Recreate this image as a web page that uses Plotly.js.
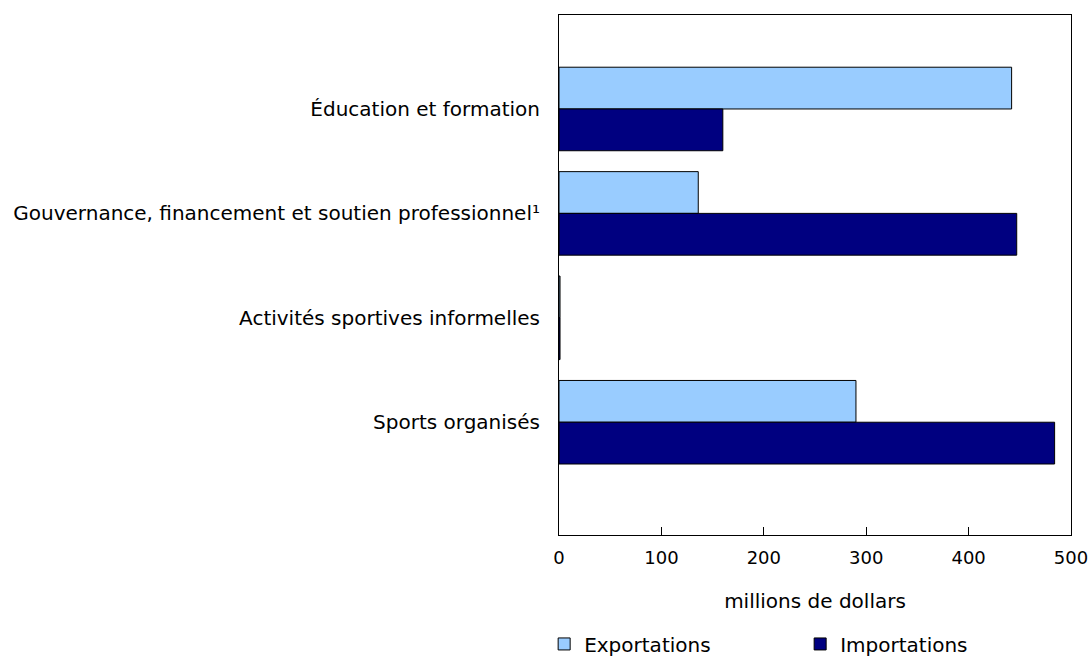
<!DOCTYPE html>
<html>
<head>
<meta charset="utf-8">
<script src="https://cdn.plot.ly/plotly-3.0.1.min.js"></script>
<style>html,body{margin:0;padding:0;background:#fff;}#chart{width:1090px;height:656px;}</style>
</head>
<body>
<div id="chart"></div>
<script>
var categories = ["Éducation et formation", "Gouvernance, financement et soutien professionnel¹", "Activités sportives informelles", "Sports organisés"];
var exportations = [442, 136, 1, 290];
var importations = [160, 447, 1, 484];
var seriesNames = ["Exportations", "Importations"];
var xTicks = [0, 100, 200, 300, 400, 500];

var font = {family: "DejaVu Sans, Verdana, sans-serif", size: 20, color: "#000"};
var tickFont = {family: "DejaVu Sans, Verdana, sans-serif", size: 18, color: "#000"};

var traces = [
  {type: "bar", orientation: "h", name: seriesNames[0], y: categories, x: exportations,
   marker: {color: "#99CCFF", line: {color: "#000", width: 1}}, hoverinfo: "x+y"},
  {type: "bar", orientation: "h", name: seriesNames[1], y: categories, x: importations,
   marker: {color: "#000080", line: {color: "#000", width: 1}}, hoverinfo: "x+y"}
];

var layout = {
  width: 1090, height: 656,
  margin: {l: 559, r: 19, t: 15, b: 121, autoexpand: false},
  paper_bgcolor: "#fff", plot_bgcolor: "#fff",
  font: font,
  barmode: "group", bargap: 0.2, bargroupgap: 0,
  showlegend: true,
  legend: {orientation: "h", x: -0.029, xanchor: "left", y: -0.172, yanchor: "top",
           font: font, entrywidth: 211, entrywidthmode: "pixels", traceorder: "normal",
           bgcolor: "rgba(0,0,0,0)"},
  xaxis: {range: [0, 500], tickvals: xTicks, ticktext: xTicks.map(String),
          ticks: "inside", ticklen: 8, tickcolor: "#000", tickwidth: 1,
          showline: true, linecolor: "#000", linewidth: 1, mirror: true,
          showgrid: false, zeroline: false, tickfont: tickFont, ticklabelstandoff: 6,
          title: {text: "millions de dollars", font: font, standoff: 27}},
  yaxis: {type: "category", categoryorder: "array", categoryarray: categories,
          range: [4.08, -0.90], autorange: false,
          ticks: "outside", ticklen: 14, tickcolor: "rgba(0,0,0,0)",
          showline: true, linecolor: "#000", linewidth: 1, mirror: true,
          showgrid: false, zeroline: false, tickfont: font}
};

Plotly.newPlot("chart", traces, layout, {displayModeBar: false, staticPlot: true});
</script>
</body>
</html>
